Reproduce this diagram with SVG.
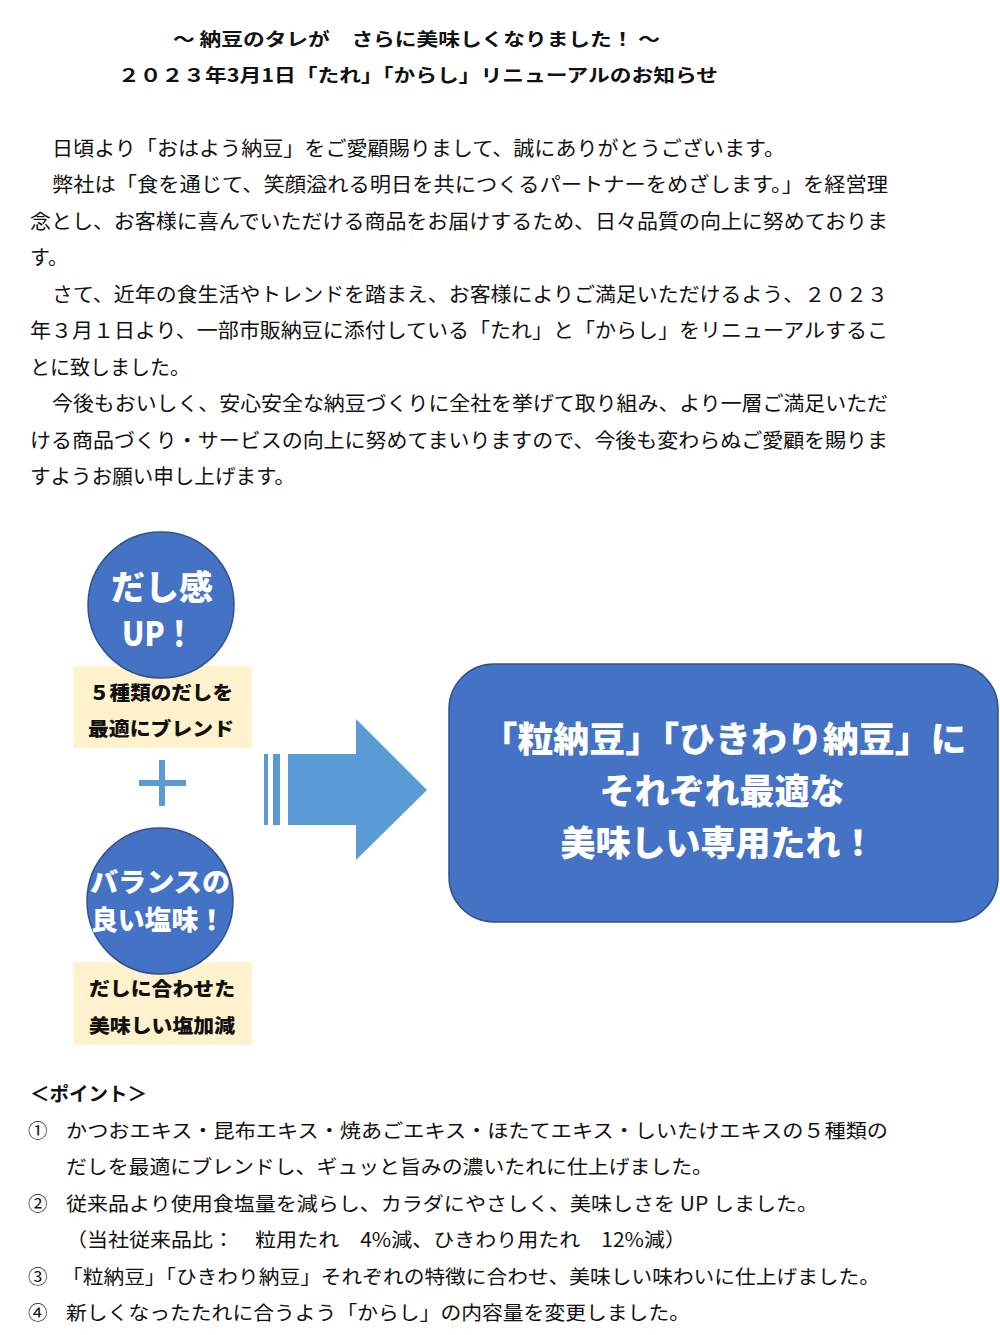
<svg xmlns="http://www.w3.org/2000/svg" width="1000" height="1335" viewBox="0 0 1000 1335">
<style>
.t{font-family:"Noto Sans CJK JP","Liberation Serif",sans-serif;fill:#111;}
.title{font-size:18px;font-weight:bold;}
.body{font-size:20px;}
.pt{font-size:19.5px;}
.pop{font-family:"Noto Sans CJK JP","Liberation Sans",sans-serif;font-weight:900;fill:#fff;text-anchor:middle;}
.lbl{font-family:"Noto Sans CJK JP","Liberation Sans",sans-serif;font-weight:900;fill:#111;font-size:19px;text-anchor:middle;}
.circ{fill:#4472C4;stroke:#2F528F;stroke-width:1.5;}
.ybox{fill:#FFF2CC;}
.blue{fill:#5B9BD5;}
</style>
<rect width="1000" height="1335" fill="#fff"/>
<g id="title">
<text class="t title" x="173" y="46" textLength="487" lengthAdjust="spacingAndGlyphs">～ 納豆のタレが　さらに美味しくなりました！ ～</text>
<text class="t title" x="118" y="82" textLength="600" lengthAdjust="spacingAndGlyphs">２０２３年3月1日「たれ」「からし」リニューアルのお知らせ</text>
</g>
<g id="intro">
<text class="t body" x="52" y="156" textLength="733" lengthAdjust="spacingAndGlyphs">日頃より「おはよう納豆」をご愛顧賜りまして、誠にありがとうございます。</text>
<text class="t body" x="52" y="192" textLength="836" lengthAdjust="spacingAndGlyphs">弊社は「食を通じて、笑顔溢れる明日を共につくるパートナーをめざします。」を経営理</text>
<text class="t body" x="30" y="229" textLength="858" lengthAdjust="spacingAndGlyphs">念とし、お客様に喜んでいただける商品をお届けするため、日々品質の向上に努めておりま</text>
<text class="t body" x="30" y="265">す。</text>
<text class="t body" x="52" y="302" textLength="836" lengthAdjust="spacingAndGlyphs">さて、近年の食生活やトレンドを踏まえ、お客様によりご満足いただけるよう、２０２３</text>
<text class="t body" x="30" y="338" textLength="858" lengthAdjust="spacingAndGlyphs">年３月１日より、一部市販納豆に添付している「たれ」と「からし」をリニューアルするこ</text>
<text class="t body" x="30" y="375" textLength="160" lengthAdjust="spacingAndGlyphs">とに致しました。</text>
<text class="t body" x="52" y="411" textLength="836" lengthAdjust="spacingAndGlyphs">今後もおいしく、安心安全な納豆づくりに全社を挙げて取り組み、より一層ご満足いただ</text>
<text class="t body" x="30" y="448" textLength="858" lengthAdjust="spacingAndGlyphs">ける商品づくり・サービスの向上に努めてまいりますので、今後も変わらぬご愛顧を賜りま</text>
<text class="t body" x="30" y="484" textLength="265" lengthAdjust="spacingAndGlyphs">すようお願い申し上げます。</text>
</g>
<g id="box-dashi">
<rect class="ybox" x="73" y="666" width="179" height="82"/>
<text class="lbl" x="161" y="700" textLength="144" lengthAdjust="spacingAndGlyphs">５種類のだしを</text>
<text class="lbl" x="161" y="736" textLength="146" lengthAdjust="spacingAndGlyphs">最適にブレンド</text>
</g>
<g id="circle-dashi">
<circle class="circ" cx="161" cy="605" r="73"/>
<text class="pop" x="162" y="600" font-size="34">だし感</text>
<text class="pop" x="158" y="646" font-size="34" textLength="72" lengthAdjust="spacingAndGlyphs">UP！</text>
</g>
<g id="plus">
<rect class="blue" x="139" y="780" width="47" height="6"/>
<rect class="blue" x="159" y="760" width="6" height="46"/>
</g>
<g id="box-salt">
<rect class="ybox" x="73" y="962" width="179" height="83"/>
<text class="lbl" x="162" y="996" textLength="146" lengthAdjust="spacingAndGlyphs">だしに合わせた</text>
<text class="lbl" x="162" y="1033" textLength="146" lengthAdjust="spacingAndGlyphs">美味しい塩加減</text>
</g>
<g id="circle-salt">
<circle class="circ" cx="160" cy="901" r="73"/>
<text class="pop" x="160" y="892" font-size="27" textLength="140" lengthAdjust="spacingAndGlyphs">バランスの</text>
<text class="pop" x="158" y="930" font-size="27" textLength="134" lengthAdjust="spacingAndGlyphs">良い塩味！</text>
</g>
<g id="connectors">
<rect class="blue" x="264" y="754" width="4" height="71"/>
<rect class="blue" x="273" y="754" width="7" height="71"/>
<polygon class="blue" points="288,754 356,754 356,719 427,790 356,860 356,825 288,825"/>
</g>
<g id="result">
<rect x="449" y="664" width="549" height="258" rx="45" ry="45" fill="#4472C4" stroke="#2F528F" stroke-width="1.5"/>
<text class="pop" x="724" y="752" font-size="35" textLength="485" lengthAdjust="spacingAndGlyphs">「粒納豆」「ひきわり納豆」に</text>
<text class="pop" x="722" y="804" font-size="35">それぞれ最適な</text>
<text class="pop" x="718" y="856" font-size="35">美味しい専用たれ！</text>
</g>
<g id="points">
<text class="t pt" x="30" y="1101" font-weight="bold">＜ポイント＞</text>
<text class="t pt" x="28" y="1138">①</text>
<text class="t pt" x="66" y="1138" textLength="822" lengthAdjust="spacingAndGlyphs">かつおエキス・昆布エキス・焼あごエキス・ほたてエキス・しいたけエキスの５種類の</text>
<text class="t pt" x="66" y="1174" textLength="647" lengthAdjust="spacingAndGlyphs">だしを最適にブレンドし、ギュッと旨みの濃いたれに仕上げました。</text>
<text class="t pt" x="28" y="1211">②</text>
<text class="t pt" x="66" y="1211" textLength="752" lengthAdjust="spacingAndGlyphs">従来品より使用食塩量を減らし、カラダにやさしく、美味しさを UP しました。</text>
<text class="t pt" x="66" y="1247" textLength="620" lengthAdjust="spacingAndGlyphs">（当社従来品比：　粒用たれ　4%減、ひきわり用たれ　12%減）</text>
<text class="t pt" x="28" y="1284">③</text>
<text class="t pt" x="62" y="1284" textLength="818" lengthAdjust="spacingAndGlyphs">「粒納豆」「ひきわり納豆」それぞれの特徴に合わせ、美味しい味わいに仕上げました。</text>
<text class="t pt" x="28" y="1320">④</text>
<text class="t pt" x="66" y="1320" textLength="624" lengthAdjust="spacingAndGlyphs">新しくなったたれに合うよう「からし」の内容量を変更しました。</text>
</g>
</svg>
